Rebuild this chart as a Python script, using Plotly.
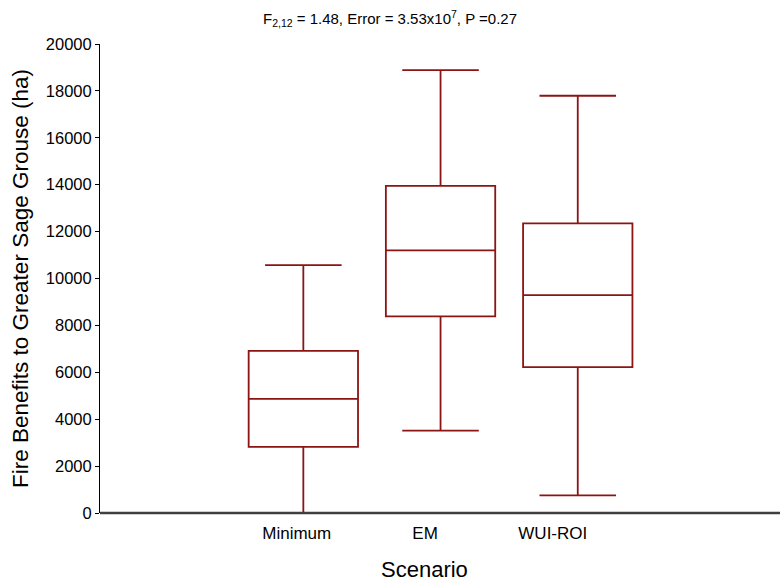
import plotly.graph_objects as go

categories = ["Minimum", "EM", "WUI-ROI"]
lower_whisker = [0, 3516, 755]
q1_values = [2816, 8381, 6217]
medians = [4865, 11197, 9289]
q3_values = [6913, 13953, 12349]
upper_whisker = [10570, 18890, 17794]

box_positions = [1, 2, 3]
label_positions = [0.952, 1.887, 2.818]
y_ticks = list(range(0, 20001, 2000))

BOX_COLOR = "#8B1414"
FONT = "Liberation Sans, Arial, sans-serif"

fig = go.Figure()
fig.add_trace(go.Box(
    x=box_positions,
    q1=q1_values,
    median=medians,
    q3=q3_values,
    lowerfence=lower_whisker,
    upperfence=upper_whisker,
    width=0.797,
    whiskerwidth=0.70,
    line=dict(color=BOX_COLOR, width=1.8),
    fillcolor="rgba(255,255,255,0)",
    boxpoints=False,
    showlegend=False,
    hoverinfo="skip",
))

fig.update_layout(
    width=780, height=582,
    margin=dict(l=100, r=0, t=44, b=69),
    paper_bgcolor="white", plot_bgcolor="white",
    font=dict(family=FONT, color="black"),
    title=dict(
        text="F<sub>2,12</sub> = 1.48, Error = 3.53x10<sup>7</sup>, P =0.27",
        x=0.5, xref="container", xanchor="center",
        y=1 - 19 / 582, yref="container", yanchor="middle",
        font=dict(size=15, family=FONT, color="black"),
    ),
    xaxis=dict(
        range=[-0.482, 4.474],
        tickmode="array",
        tickvals=label_positions,
        ticktext=categories,
        ticks="",
        ticklabelstandoff=8,
        showgrid=False, zeroline=False,
        showline=False,
        tickfont=dict(size=17, family=FONT, color="black"),
    ),
    yaxis=dict(
        range=[0, 20000],
        tickmode="array",
        tickvals=y_ticks,
        ticktext=[str(v) for v in y_ticks],
        ticks="outside", ticklen=4, tickwidth=1, tickcolor="black",
        showgrid=False, zeroline=False,
        showline=True, linecolor="black", linewidth=1,
        tickfont=dict(size=16.5, family=FONT, color="black"),
        title=dict(text="Fire Benefits to Greater Sage Grouse (ha)",
                   font=dict(size=22.5, family=FONT, color="black"),
                   standoff=10),
    ),
    # bottom axis line drawn above the boxes so the zero whisker cap is hidden
    shapes=[dict(type="line", xref="paper", yref="paper", x0=0, x1=1, y0=0, y1=0,
                 line=dict(color="#404040", width=2.5), layer="above")],
    annotations=[dict(
        text="Scenario", xref="paper", yref="paper",
        x=(424 - 100) / 680, y=(582 - 69 - 569) / 469,
        xanchor="center", yanchor="middle",
        showarrow=False, font=dict(size=22, family=FONT, color="black"),
    )],
)

fig.write_html("out.html")
